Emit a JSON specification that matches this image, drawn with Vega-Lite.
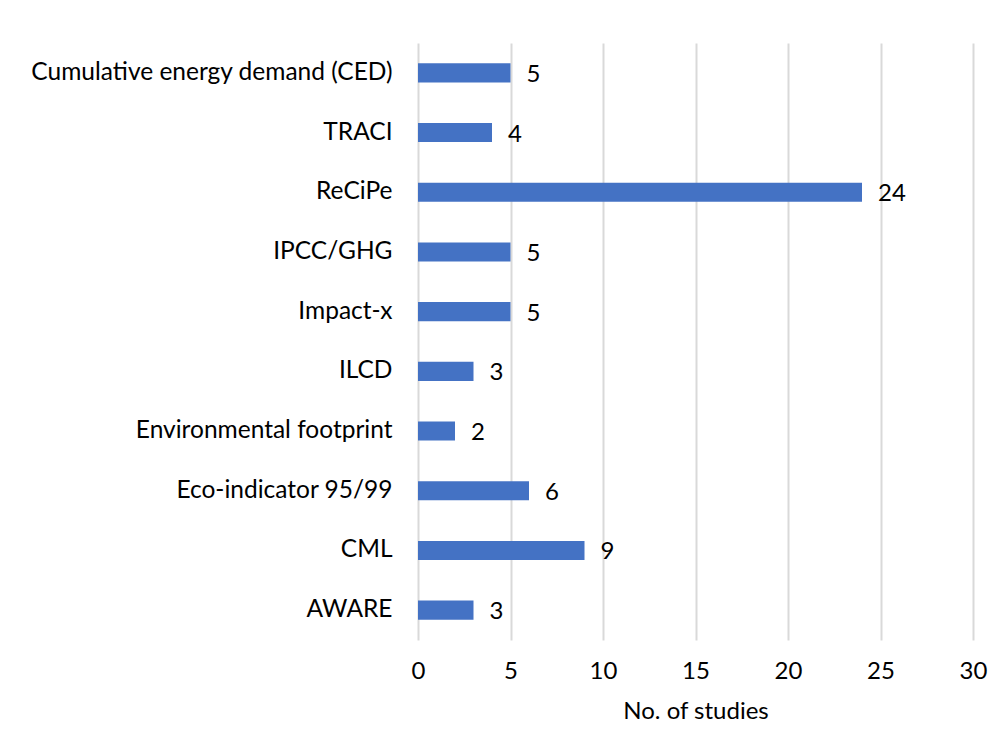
{
  "$schema": "https://vega.github.io/schema/vega-lite/v6.json",
  "autosize": "none",
  "width": 555,
  "height": 597,
  "padding": {"left": 418, "top": 43, "right": 30, "bottom": 111},
  "background": "white",
  "data": {"values": [
    {"method": "Cumulative energy demand (CED)", "studies": 5},
    {"method": "TRACI", "studies": 4},
    {"method": "ReCiPe", "studies": 24},
    {"method": "IPCC/GHG", "studies": 5},
    {"method": "Impact-x", "studies": 5},
    {"method": "ILCD", "studies": 3},
    {"method": "Environmental footprint", "studies": 2},
    {"method": "Eco-indicator 95/99", "studies": 6},
    {"method": "CML", "studies": 9},
    {"method": "AWARE", "studies": 3}
  ]},
  "config": {
    "view": {"stroke": null},
    "font": "Lato"
  },
  "encoding": {
    "y": {"field": "method", "type": "nominal", "sort": null,
      "scale": {"paddingInner": 0.68, "paddingOuter": 0.34},
      "axis": {"title": null, "ticks": false, "domain": false, "labelPadding": 26, "labelFontSize": 24.5, "labelColor": "black", "labelFont": "Lato", "labelLimit": 420}},
    "x": {"field": "studies", "type": "quantitative",
      "scale": {"domain": [0, 30]},
      "axis": {"values": [0, 5, 10, 15, 20, 25, 30], "ticks": false, "domain": false, "grid": true, "gridColor": "#d9d9d9", "gridWidth": 2, "labelFlush": false, "labelPadding": 19, "labelFontSize": 24, "labelColor": "black", "labelFont": "Lato", "title": "No. of studies", "titleFontSize": 24, "titleFont": "Lato", "titleFontWeight": "normal", "titleColor": "black", "titlePadding": 16}}
  },
  "layer": [
    {"mark": {"type": "bar", "color": "#4472c4"}},
    {"mark": {"type": "text", "align": "left", "baseline": "middle", "dx": 16, "dy": 2, "fontSize": 24, "font": "Lato", "color": "black"},
     "encoding": {"text": {"field": "studies", "type": "quantitative"}}}
  ]
}
